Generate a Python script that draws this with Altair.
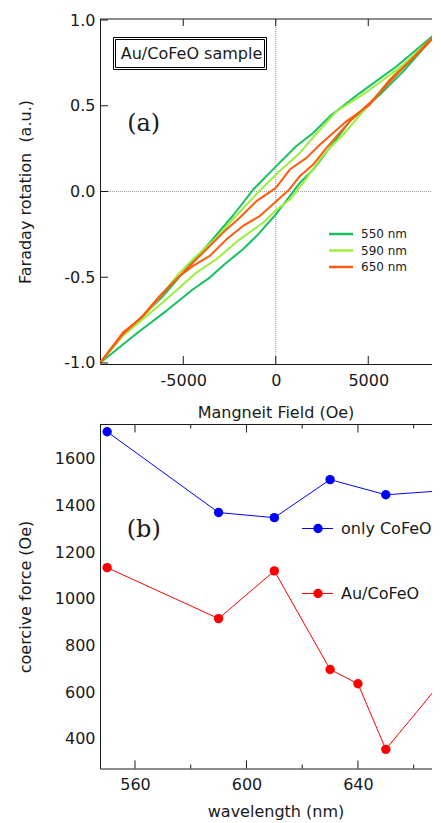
import altair as alt
import pandas as pd

# ---------------- panel (a): Faraday rotation hysteresis loops ----------------
wavelength_labels = ["550 nm", "590 nm", "650 nm"]
loop_colors = ["#17c060", "#9cef3c", "#ff5a0f"]

h550_up = [-9500, -8250, -7170, -6090, -5010, -4470, -3570, -2310, -1230, 0, 1120, 2020, 2920, 4540, 6520, 8860, 9500]
v550_up = [-1.0, -0.83, -0.725, -0.61, -0.473, -0.405, -0.298, -0.14, 0.01, 0.145, 0.265, 0.341, 0.438, 0.574, 0.729, 0.942, 1.0]
h550_lo = [-9500, -7440, -5910, -4470, -3570, -2670, -1770, -1040, 0, 760, 1300, 2020, 2740, 3100, 4000, 5620, 6880, 8860, 9500]
v550_lo = [-1.0, -0.821, -0.696, -0.57, -0.502, -0.415, -0.337, -0.26, -0.134, -0.027, 0.05, 0.128, 0.23, 0.28, 0.409, 0.564, 0.70, 0.942, 1.0]

h590_up = [-9500, -8250, -7170, -5190, -4470, -3300, -2125, -780, 200, 1300, 2380, 3280, 5080, 6880, 8860, 9500]
v590_up = [-1.0, -0.835, -0.735, -0.473, -0.395, -0.279, -0.14, 0.015, 0.118, 0.225, 0.36, 0.467, 0.593, 0.738, 0.932, 1.0]
h590_lo = [-9500, -8250, -7170, -5910, -4290, -3210, -1950, -685, 0, 760, 1480, 2380, 2920, 3640, 5260, 6700, 8860, 9500]
v590_lo = [-1.0, -0.841, -0.744, -0.628, -0.473, -0.395, -0.279, -0.182, -0.11, -0.047, 0.05, 0.186, 0.254, 0.331, 0.535, 0.719, 0.935, 1.0]

h650_up = [-9500, -8250, -7170, -5910, -5010, -4290, -3570, -2665, -1950, -1045, -505, 0, 760, 1660, 2380, 3820, 5080, 6160, 7420, 8860, 9500]
v650_up = [-1.0, -0.831, -0.725, -0.57, -0.473, -0.395, -0.318, -0.221, -0.153, -0.056, -0.017, 0.021, 0.128, 0.196, 0.273, 0.409, 0.506, 0.651, 0.777, 0.932, 1.0]
h650_lo = [-9500, -8250, -7350, -6270, -5190, -4470, -3570, -2665, -1770, -865, 0, 760, 1300, 2020, 2740, 4000, 5260, 6520, 8860, 9500]
v650_lo = [-1.0, -0.821, -0.744, -0.609, -0.492, -0.434, -0.376, -0.279, -0.201, -0.143, -0.06, 0.015, 0.089, 0.157, 0.254, 0.409, 0.535, 0.68, 0.942, 1.0]

field_ticks = [-5000, 0, 5000]
rotation_ticks = [-1.0, -0.5, 0.0, 0.5, 1.0]
sample_label = ["Au/CoFeO sample"]
panel_tags = ["(a)", "(b)"]

# ---------------- panel (b): coercive force vs wavelength ----------------
series_labels = ["only CoFeO", "Au/CoFeO"]
series_colors = ["#0000ff", "#ff0000"]
wl_only = [550, 590, 610, 630, 650, 670]
hc_only = [1715, 1369, 1347, 1510, 1445, 1462]
wl_au = [550, 590, 610, 630, 640, 650, 670]
hc_au = [1133, 915, 1119, 697, 636, 355, 644]
wl_major = [560, 600, 640]
wl_minor = [580, 620, 660]
hc_ticks = [400, 600, 800, 1000, 1200, 1400, 1600]

# ---------------- build tables ----------------
rows = []
branches = [
    (0, "up", h550_up, v550_up), (0, "lo", h550_lo, v550_lo),
    (1, "up", h590_up, v590_up), (1, "lo", h590_lo, v590_lo),
    (2, "up", h650_up, v650_up), (2, "lo", h650_lo, v650_lo),
]
for wi, br, hs, vs in branches:
    for k, (h, v) in enumerate(zip(hs, vs)):
        rows.append({"H": h, "V": v, "wl": wavelength_labels[wi], "branch": br, "idx": k})
loops = pd.DataFrame(rows)

brows = []
for lab, ws, hs in [(series_labels[0], wl_only, hc_only), (series_labels[1], wl_au, hc_au)]:
    for w, h in zip(ws, hs):
        brows.append({"W": w, "C": h, "series": lab})
coer = pd.DataFrame(brows)

FONT = "DejaVu Sans"
INK = "#1a1a1a"
W, HT = 341, 345
HB = 344
DASH_FIX = "replace(datum.label, '\u2212', '-')"

xa = alt.X("H:Q", title="Mangneit Field (Oe)",
           scale=alt.Scale(domain=[-9500, 8932], nice=False, zero=False),
           axis=alt.Axis(values=field_ticks, format="d", labelExpr=DASH_FIX, ticks=False, tickSize=0,
                         labelPadding=8, titlePadding=16, titleX=175.5, grid=False, labelFlush=False))
ya = alt.Y("V:Q", title="Faraday rotation \u00a0(a.u.)",
           scale=alt.Scale(domain=[-1.006, 1.006], nice=False, zero=False),
           axis=alt.Axis(values=rotation_ticks, format=".1f", labelExpr=DASH_FIX, ticks=False, tickSize=0,
                         labelPadding=5, titlePadding=17, minExtent=50, maxExtent=50, grid=False,
                         labelFlush=False))

one = pd.DataFrame({"H": [0]})
zero_x = alt.Chart(pd.DataFrame({"H": [0]})).mark_rule(color="#999", strokeDash=[1, 1], strokeWidth=1).encode(x=xa)
zero_y = alt.Chart(pd.DataFrame({"V": [0]})).mark_rule(color="#999", strokeDash=[1, 1], strokeWidth=1).encode(y=ya)

loop_layers = []
for i, lab in enumerate(wavelength_labels):
    d = loops[loops["wl"] == lab]
    loop_layers.append(
        alt.Chart(d).mark_line(color=loop_colors[i], strokeWidth=2, clip=True, strokeJoin="round")
        .encode(x=xa, y=ya, detail="branch:N", order="idx:Q")
    )

xt = pd.DataFrame({"H": field_ticks})
yt = pd.DataFrame({"V": rotation_ticks})
tick_bottom_a = alt.Chart(xt).mark_rule(color=INK).encode(x=xa, y=alt.value(HT), y2=alt.value(HT - 8))
tick_top_a = alt.Chart(xt).mark_rule(color=INK).encode(x=xa, y=alt.value(0), y2=alt.value(7))
tick_left_a = alt.Chart(yt).mark_rule(color=INK).encode(y=ya, x=alt.value(0), x2=alt.value(8))
frame_top_a = alt.Chart(one).mark_rule(color=INK).encode(x=alt.value(0), x2=alt.value(W), y=alt.value(0))

box_df = pd.DataFrame({"label": sample_label})
box_outer = alt.Chart(box_df).mark_rect(fill="white", stroke="#000", strokeWidth=1).encode(
    x=alt.value(13.5), x2=alt.value(166.5), y=alt.value(18.5), y2=alt.value(50.5))
box_inner = alt.Chart(box_df).mark_rect(fill="white", stroke="#000", strokeWidth=1).encode(
    x=alt.value(15.5), x2=alt.value(164.5), y=alt.value(20.5), y2=alt.value(48.5))
box_text = alt.Chart(box_df).mark_text(font=FONT, fontSize=16, color=INK, align="center", baseline="middle").encode(
    text="label:N", x=alt.value(91.5), y=alt.value(34.5))

tag_a = alt.Chart(pd.DataFrame({"tag": [panel_tags[0]]})).mark_text(
    font="DejaVu Serif", fontSize=24, color=INK, align="center", baseline="alphabetic").encode(
    text="tag:N", x=alt.value(43.7), y=alt.value(111.5))

leg_a = []
leg_ys = [215, 231.5, 248]
for i, lab in enumerate(wavelength_labels):
    ld = pd.DataFrame({"label": [lab]})
    leg_a.append(alt.Chart(ld).mark_rule(color=loop_colors[i], strokeWidth=2.5).encode(
        x=alt.value(229), x2=alt.value(253), y=alt.value(leg_ys[i])))
    leg_a.append(alt.Chart(ld).mark_text(font=FONT, fontSize=12, color=INK, align="left", baseline="middle").encode(
        text="label:N", x=alt.value(261), y=alt.value(leg_ys[i])))

top = alt.layer(zero_x, zero_y, *loop_layers, tick_bottom_a, tick_top_a, tick_left_a, frame_top_a,
                box_outer, box_inner, box_text, tag_a, *leg_a).properties(width=W, height=HT)

# ---------------- panel (b) ----------------
xb = alt.X("W:Q", title="wavelength (nm)",
           scale=alt.Scale(domain=[547.44, 669.8], nice=False, zero=False),
           axis=alt.Axis(values=wl_major, format="d", ticks=False, tickSize=0, labelPadding=8,
                         titlePadding=11, titleX=175.5, grid=False, labelFlush=False))
yb = alt.Y("C:Q", title="coercive force (Oe)",
           scale=alt.Scale(domain=[273, 1746], nice=False, zero=False),
           axis=alt.Axis(values=hc_ticks, format="d", ticks=False, tickSize=0, labelPadding=5,
                         titlePadding=17, minExtent=50, maxExtent=50, grid=False, labelFlush=False))

series_layers = []
for i, lab in enumerate(series_labels):
    d = coer[coer["series"] == lab]
    series_layers.append(alt.Chart(d).mark_line(color=series_colors[i], strokeWidth=1, clip=True).encode(x=xb, y=yb))
    series_layers.append(alt.Chart(d).mark_circle(color=series_colors[i], size=88, opacity=1, clip=True).encode(x=xb, y=yb))

maj = pd.DataFrame({"W": wl_major})
mnr = pd.DataFrame({"W": wl_minor})
tick_b = [
    alt.Chart(maj).mark_rule(color=INK).encode(x=xb, y=alt.value(HB), y2=alt.value(HB - 8)),
    alt.Chart(maj).mark_rule(color=INK).encode(x=xb, y=alt.value(0), y2=alt.value(8)),
    alt.Chart(mnr).mark_rule(color=INK).encode(x=xb, y=alt.value(HB), y2=alt.value(HB - 4)),
    alt.Chart(mnr).mark_rule(color=INK).encode(x=xb, y=alt.value(0), y2=alt.value(4)),
    alt.Chart(one).mark_rule(color=INK).encode(x=alt.value(0), x2=alt.value(W), y=alt.value(0)),
]

tag_b = alt.Chart(pd.DataFrame({"tag": [panel_tags[1]]})).mark_text(
    font="DejaVu Serif", fontSize=24, color=INK, align="center", baseline="alphabetic").encode(
    text="tag:N", x=alt.value(43.7), y=alt.value(112.7))

leg_b = []
leg_b_ys = [104, 169]
for i, lab in enumerate(series_labels):
    ld = pd.DataFrame({"label": [lab]})
    leg_b.append(alt.Chart(ld).mark_rule(color=series_colors[i], strokeWidth=1).encode(
        x=alt.value(202), x2=alt.value(233), y=alt.value(leg_b_ys[i])))
    leg_b.append(alt.Chart(ld).mark_circle(color=series_colors[i], size=88, opacity=1).encode(
        x=alt.value(218), y=alt.value(leg_b_ys[i])))
    leg_b.append(alt.Chart(ld).mark_text(font=FONT, fontSize=16, color=INK, align="left", baseline="middle").encode(
        text="label:N", x=alt.value(241), y=alt.value(leg_b_ys[i])))

bottom = alt.layer(*series_layers, *tick_b, tag_b, *leg_b).properties(width=W, height=HB)

chart = (
    alt.vconcat(top, bottom, spacing=3.5)
    .resolve_scale(x="independent", y="independent")
    .properties(padding={"left": 9, "top": 4, "right": -10, "bottom": 0}, background="white")
    .configure_view(stroke=None)
    .configure_axis(labelFont=FONT, titleFont=FONT, labelFontSize=16, titleFontSize=16,
                    titleFontWeight="normal", labelColor=INK, titleColor=INK,
                    domainColor=INK, domainWidth=1)
)

chart.save("out.html", embed_options={"renderer": "svg", "actions": False})
